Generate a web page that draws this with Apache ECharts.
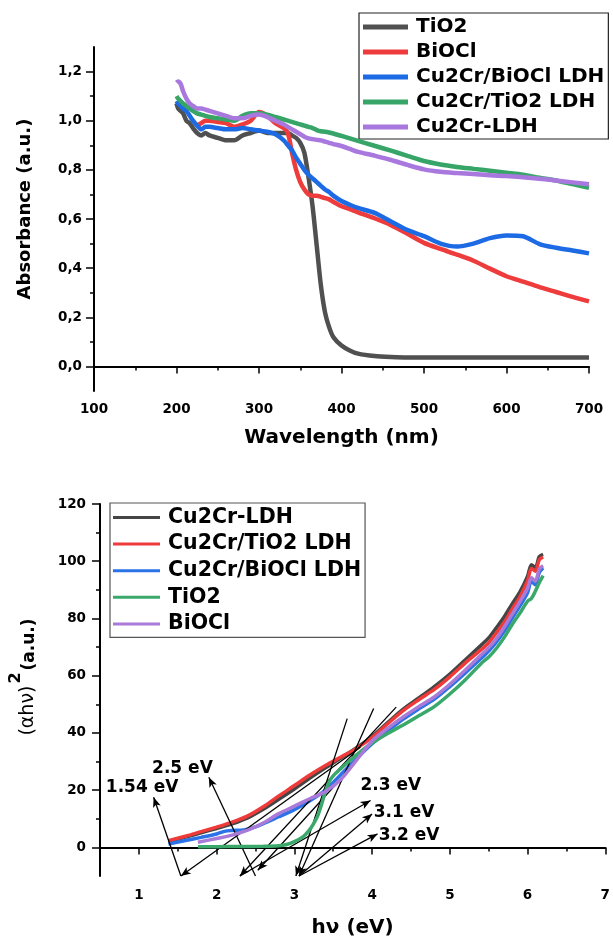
<!DOCTYPE html>
<html>
<head>
<meta charset="utf-8">
<script src="https://cdn.jsdelivr.net/npm/echarts@6/dist/echarts.min.js"></script>
<style>
html,body{margin:0;padding:0;background:#fff;}
#c{width:613px;height:940px;}
</style>
</head>
<body>
<div id="c"></div>
<script>
// ---------- Top chart: UV-Vis absorbance ----------
const wavelength = [200,202,205,208,212,216,220,225,230,235,240,250,260,270,280,290,300,310,320,330,335,340,345,350,355,360,365,370,375,380,385,390,400,410,420,440,460,480,500,520,540,560,580,600,620,640,660,680,700];
const absTiO2 = [1.07,1.05,1.04,1.03,1.00,0.99,0.97,0.95,0.94,0.95,0.94,0.93,0.92,0.92,0.94,0.95,0.96,0.95,0.95,0.95,0.95,0.94,0.93,0.91,0.87,0.77,0.65,0.49,0.33,0.22,0.16,0.12,0.085,0.065,0.052,0.042,0.038,0.036,0.036,0.036,0.036,0.036,0.036,0.036,0.036,0.036,0.036,0.036,0.036];
const absBiOCl = [null,null,null,null,null,null,null,0.98,0.99,1.00,1.00,0.995,0.99,0.975,0.985,1.00,1.035,1.02,0.99,0.97,0.95,0.87,0.80,0.75,0.72,0.70,0.695,0.695,0.69,0.685,0.68,0.67,0.652,0.64,0.627,0.603,0.575,0.54,0.503,0.478,0.455,0.43,0.398,0.367,0.345,0.323,0.303,0.283,0.265];
const absCuCrBiOCl = [1.08,1.07,1.06,1.05,1.04,1.02,1.00,0.98,0.965,0.975,0.975,0.97,0.965,0.965,0.97,0.965,0.96,0.955,0.945,0.92,0.90,0.88,0.85,0.825,0.80,0.78,0.765,0.75,0.735,0.72,0.71,0.695,0.673,0.658,0.645,0.625,0.59,0.555,0.53,0.50,0.488,0.50,0.522,0.533,0.53,0.498,0.483,0.472,0.46];
const absCuCrTiO2 = [1.10,1.09,1.08,1.07,1.06,1.05,1.04,1.03,1.025,1.02,1.015,1.01,1.005,1.00,1.02,1.03,1.03,1.025,1.015,1.005,1.00,0.995,0.99,0.985,0.98,0.975,0.97,0.962,0.957,0.955,0.952,0.948,0.938,0.928,0.918,0.898,0.878,0.857,0.836,0.822,0.812,0.804,0.796,0.788,0.78,0.768,0.757,0.742,0.727];
const absCuCrLDH = [1.155,1.16,1.15,1.12,1.09,1.07,1.06,1.05,1.05,1.045,1.04,1.03,1.02,1.01,1.01,1.02,1.025,1.015,1.00,0.985,0.975,0.965,0.955,0.945,0.935,0.928,0.925,0.922,0.92,0.915,0.91,0.905,0.897,0.885,0.873,0.858,0.84,0.82,0.802,0.792,0.787,0.783,0.778,0.775,0.77,0.764,0.757,0.749,0.741];
const topNames = ['TiO2','BiOCl','Cu2Cr/BiOCl LDH','Cu2Cr/TiO2 LDH','Cu2Cr-LDH'];
const topColors = ['#505050','#ee3b3b','#1d6ae5','#37a567','#a878de'];
const absTicks = [0,0.2,0.4,0.6,0.8,1.0,1.2];
const absMinorTicks = [0.1,0.3,0.5,0.7,0.9,1.1];

// ---------- Bottom chart: Tauc plot ----------
const hvLDH = [1.38,1.6,1.8,2.0,2.2,2.4,2.6,2.8,3.0,3.2,3.4,3.6,3.8,4.0,4.2,4.4,4.6,4.8,5.0,5.2,5.4,5.5,5.6,5.7,5.8,5.9,6.0,6.05,6.1,6.15,6.2];
const taucLDH = [2.0,3.6,5.1,6.6,8.2,10.3,13.3,16.8,20.4,24.2,27.8,31.2,34.8,38.8,43.6,48.3,52.2,56.2,60.6,65.6,70.6,73.2,76.8,80.6,85.0,89.2,94.8,98.8,97.8,101.6,102.4];
const hvTiLDH = [1.38,1.6,1.8,2.0,2.2,2.4,2.6,2.8,3.0,3.2,3.4,3.6,3.8,4.0,4.2,4.4,4.6,4.8,5.0,5.2,5.4,5.5,5.6,5.7,5.8,5.9,6.0,6.05,6.1,6.15,6.2];
const taucTiLDH = [2.3,3.9,5.5,7.1,8.8,11.0,14.2,18.0,21.6,25.3,28.6,31.6,34.6,38.4,43.2,47.8,51.6,55.2,59.6,64.5,69.0,71.5,75.0,78.6,83.2,87.5,93.2,97.5,96.5,100.5,101.5];
const hvBiLDH = [1.38,1.6,1.8,2.0,2.1,2.2,2.35,2.5,2.8,3.0,3.2,3.4,3.6,3.8,4.0,4.2,4.4,4.6,4.8,5.0,5.2,5.4,5.5,5.6,5.7,5.8,5.9,6.0,6.05,6.1,6.15,6.2];
const taucBiLDH = [1.2,2.4,3.5,4.7,5.6,5.9,6.1,7.2,10.7,13.2,16.3,20.0,25.5,31.0,36.2,40.6,44.8,48.4,51.8,56.2,61.0,66.0,68.6,71.8,75.6,80.0,84.3,89.0,93.0,91.8,96.0,97.6];
const hvTiO2 = [1.76,2.0,2.3,2.6,2.8,2.9,3.0,3.1,3.15,3.2,3.25,3.3,3.35,3.4,3.45,3.5,3.6,3.7,3.8,3.9,4.0,4.2,4.4,4.6,4.8,5.0,5.2,5.4,5.5,5.6,5.7,5.8,5.9,6.0,6.05,6.1,6.15,6.2];
const taucTiO2 = [0.2,0.25,0.3,0.4,0.6,1.0,2.0,3.5,4.7,6.3,8.4,11.0,15.0,19.5,23.0,25.0,27.6,30.0,32.3,34.5,36.5,39.8,42.8,46.0,49.2,53.6,58.6,64.2,66.5,69.6,73.4,77.8,81.8,86.0,87.0,89.5,92.5,95.0];
const hvBiOCl = [1.76,2.0,2.2,2.4,2.6,2.8,3.0,3.2,3.4,3.6,3.8,4.0,4.2,4.4,4.6,4.8,5.0,5.2,5.4,5.5,5.6,5.7,5.8,5.9,6.0,6.05,6.1,6.15,6.2];
const taucBiOCl = [1.8,3.1,4.3,6.0,8.5,11.8,14.4,17.0,19.5,23.8,30.5,37.2,41.6,45.6,49.2,52.6,57.0,62.0,67.2,69.8,73.0,77.0,81.4,85.8,90.6,94.2,93.0,97.2,98.4];
const bottomNames = ['Cu2Cr-LDH','Cu2Cr/TiO2 LDH','Cu2Cr/BiOCl LDH','TiO2','BiOCl'];
const bottomColors = ['#454545','#ef3a3a','#2a72e6','#3aa86b','#a97ad8'];
const hvTicks = [1,2,3,4,5,6,7];
const hvMinorTicks = [1.5,2.5,3.5,4.5,5.5,6.5];
const taucTicks = [0,20,40,60,80,100,120];
const taucMinorTicks = [10,30,50,70,90,110];

// Tangent lines and arrows (data coordinates)
const annoX1 = [1.54,1.54,2.5,2.3,2.53,3.02,3.06,2.3,3.06,3.06];
const annoY1 = [-10,-10,-10,-10,-8,-10,-10,-10,-10,-10];
const annoX2 = [3.85,1.19,1.9,4.31,3.6,3.68,4.02,3.98,4.0,4.07];
const annoY2 = [35,17.5,24.5,49,24,45,48.5,16.4,11.7,4.7];
const annoArrowStart = [true,false,false,true,true,true,true,false,false,false];
const annoArrowEnd = [false,true,true,false,false,false,false,true,true,true];
const gapLabels = ['1.54 eV','2.5 eV','2.3 eV','3.1 eV','3.2 eV'];
const gapLabelX = [0.575,1.17,3.85,4.02,4.085];
const gapLabelY = [20.9,27.5,21.6,12.3,4.1];

const FONT = 'DejaVu Sans';
const chart = echarts.init(document.getElementById('c'), null, {renderer:'canvas'});

const axisLineStyle = {lineStyle:{color:'#000', width:2}};
const tickStyle = {color:'#000', width:1.5};
const labelStyle = {color:'#000', fontFamily:FONT, fontWeight:'bold', fontSize:13.5};

const topSeriesData = [absTiO2, absBiOCl, absCuCrBiOCl, absCuCrTiO2, absCuCrLDH];
const bottomX = [hvLDH, hvTiLDH, hvBiLDH, hvTiO2, hvBiOCl];
const bottomY = [taucLDH, taucTiLDH, taucBiLDH, taucTiO2, taucBiOCl];

const series = [];
topNames.forEach((n,i)=>{
  series.push({
    type:'line', name:n, xAxisIndex:0, yAxisIndex:0,
    data: wavelength.map((w,k)=>[w, topSeriesData[i][k]]),
    showSymbol:false, smooth:0.25, connectNulls:false,
    lineStyle:{color:topColors[i], width:4.5},
    itemStyle:{color:topColors[i]},
    z: 2+i
  });
});
bottomNames.forEach((n,i)=>{
  series.push({
    type:'line', name:'b:'+n, xAxisIndex:1, yAxisIndex:2,
    data: bottomX[i].map((x,k)=>[x, bottomY[i][k]]),
    showSymbol:false, smooth:0.3,
    lineStyle:{color:bottomColors[i], width:3.5},
    itemStyle:{color:bottomColors[i]},
    z: 2+i
  });
});
// annotation lines
series.push({
  type:'line', name:'annotations', xAxisIndex:1, yAxisIndex:2, data:[], clip:false, silent:true, z:20,
  markLine:{
    silent:true, animation:false, symbolSize:[6,10],
    label:{show:false},
    lineStyle:{color:'#000', width:1.3, type:'solid'},
    emphasis:{disabled:true},
    data: annoX1.map((x,i)=>[
      {coord:[x, annoY1[i]], symbol: annoArrowStart[i]?'arrow':'none'},
      {coord:[annoX2[i], annoY2[i]], symbol: annoArrowEnd[i]?'arrow':'none'}
    ])
  }
});
series.push({
  type:'scatter', name:'gaplabels', xAxisIndex:1, yAxisIndex:2, silent:true, z:21,
  symbolSize:0, itemStyle:{opacity:1, color:'#000'},
  data: gapLabelX.map((x,i)=>[x, gapLabelY[i]]),
  label:{show:true, position:'right', distance:0, formatter:p=>gapLabels[p.dataIndex],
    color:'#000', opacity:1, fontFamily:FONT, fontWeight:'bold', fontSize:17}
});

const option = {
  animation:false,
  backgroundColor:'#fff',
  grid:[
    {left:94, top:47, width:495, height:344},
    {left:100, top:504, width:508, height:372}
  ],
  xAxis:[
    {type:'value', gridIndex:0, min:100, max:700, interval:100,
     axisLine:axisLineStyle, axisTick:{inside:false, length:7, lineStyle:tickStyle},
     minorTick:{show:true, splitNumber:2, length:4, lineStyle:tickStyle},
     splitLine:{show:false}, axisLabel:Object.assign({margin:11}, labelStyle),
     name:'Wavelength (nm)', nameLocation:'middle', nameGap:37,
     nameTextStyle:{color:'#000', fontFamily:FONT, fontWeight:'bold', fontSize:20}},
    {type:'value', gridIndex:1, min:0.5, max:7,
     axisLine:axisLineStyle,
     axisTick:{length:7, lineStyle:tickStyle, customValues:hvTicks},
     splitLine:{show:false},
     axisLabel:Object.assign({margin:12, customValues:hvTicks}, labelStyle),
     name:'hν (eV)', nameLocation:'middle', nameGap:42,
     nameTextStyle:{color:'#000', fontFamily:FONT, fontWeight:'bold', fontSize:20}},
    {type:'value', gridIndex:1, min:0.5, max:7, position:'bottom',
     axisLine:{show:false}, axisLabel:{show:false}, splitLine:{show:false},
     axisTick:{length:4, lineStyle:tickStyle, customValues:hvMinorTicks}}
  ],
  yAxis:[
    {type:'value', gridIndex:0, min:-0.1, max:1.3,
     axisLine:axisLineStyle,
     axisTick:{length:8, lineStyle:tickStyle, customValues:absTicks},
     splitLine:{show:false},
     axisLabel:Object.assign({margin:12, customValues:absTicks,
        formatter:v=>v.toFixed(1).replace('.',',')}, labelStyle),
     name:'Absorbance (a.u.)', nameLocation:'middle', nameGap:60,
     nameTextStyle:{color:'#000', fontFamily:FONT, fontWeight:'bold', fontSize:18, padding:[0,0,0,20]}},
    {type:'value', gridIndex:0, min:-0.1, max:1.3, position:'left',
     axisLine:{show:false}, axisLabel:{show:false}, splitLine:{show:false},
     axisTick:{length:4, lineStyle:tickStyle, customValues:absMinorTicks}},
    {type:'value', gridIndex:1, min:-10, max:120,
     axisLine:axisLineStyle,
     axisTick:{length:8, lineStyle:tickStyle, customValues:taucTicks},
     splitLine:{show:false},
     axisLabel:Object.assign({margin:14, customValues:taucTicks}, labelStyle),
     name:'{a|(αhν)}{b|2}{c|(a.u.)}', nameLocation:'middle', nameGap:62,
     nameTextStyle:{color:'#000', padding:[0,0,0,26],
       rich:{
         a:{fontFamily:FONT, fontWeight:'normal', fontSize:19, color:'#000', verticalAlign:'bottom'},
         b:{fontFamily:FONT, fontWeight:'bold', fontSize:16, color:'#000', verticalAlign:'top', padding:[0,2,14,2]},
         c:{fontFamily:FONT, fontWeight:'bold', fontSize:17, color:'#000', verticalAlign:'bottom'}
       }}},
    {type:'value', gridIndex:1, min:-10, max:120, position:'left',
     axisLine:{show:false}, axisLabel:{show:false}, splitLine:{show:false},
     axisTick:{length:4, lineStyle:tickStyle, customValues:taucMinorTicks}}
  ],
  legend:[
    {left:359, top:13, orient:'vertical', icon:'rect', itemWidth:45, itemHeight:5, itemGap:5,
     data:topNames, selectedMode:false,
     borderColor:'#222', borderWidth:1.2, padding:[4,4,2,4], backgroundColor:'#fff',
     textStyle:{color:'#000', fontFamily:FONT, fontWeight:'bold', fontSize:20, lineHeight:20, padding:[0,0,0,3]}},
    {left:110, top:503, orient:'vertical', icon:'rect', itemWidth:47, itemHeight:3, itemGap:5.6,
     data:bottomNames.map(n=>'b:'+n), selectedMode:false,
     formatter:n=>n.replace(/^b:/,''),
     borderColor:'#555', borderWidth:1.2, padding:[4,4,3,3], backgroundColor:'#fff',
     textStyle:{color:'#000', fontFamily:FONT, fontWeight:'bold', fontSize:20.5, lineHeight:21, padding:[0,0,0,3]}}
  ],
  series: series
};
chart.setOption(option);
</script>
</body>
</html>
